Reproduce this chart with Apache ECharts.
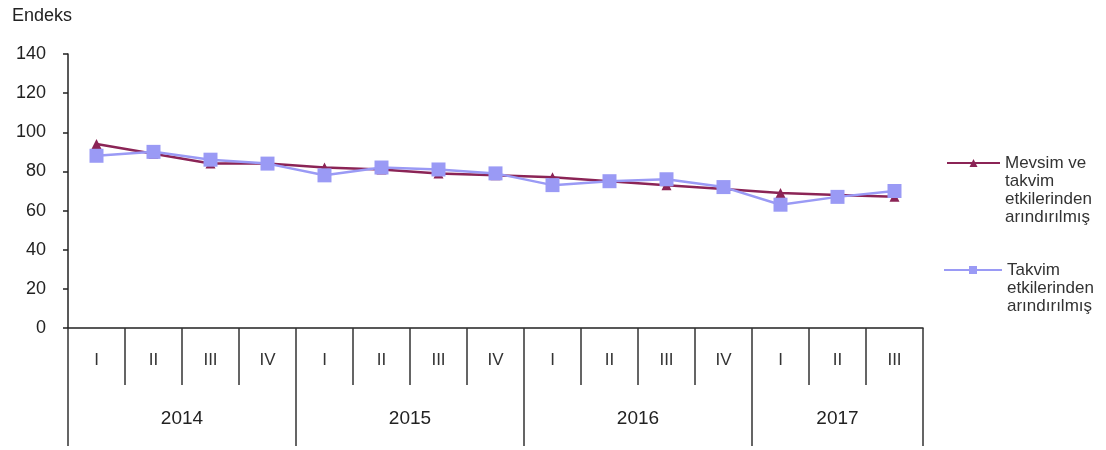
<!DOCTYPE html>
<html>
<head>
<meta charset="utf-8">
<script src="https://cdn.jsdelivr.net/npm/echarts@6/dist/echarts.min.js"></script>
<style>html,body{margin:0;padding:0;background:#fff}#c{width:1106px;height:450px}</style>
</head>
<body>
<div id="c"></div>
<script>
const quarters = ['I','II','III','IV','I','II','III','IV','I','II','III','IV','I','II','III'];
const yearLabels = ['2014','2015','2016','2017'];
const yearLabelSlots = [4, 12, 20, 27];      // half-quarter positions of year labels
const yearBoundarySlots = [0, 8, 16, 24, 30]; // half-quarter positions of year boundaries
const seasonalAdj = [94, 89, 84, 84, 82, 81, 79, 78, 77, 75, 73, 71, 69, 68, 67];
const calendarAdj = [88, 90, 86, 84, 78, 82, 81, 79, 73, 75, 76, 72, 63, 67, 70];
const yTicks = { min: 0, max: 140, interval: 20 };
const name1 = 'Mevsim ve\ntakvim\netkilerinden\narındırılmış';
const name2 = 'Takvim\netkilerinden\narındırılmış';

const yearSlots = [];
for (let k = 0; k <= quarters.length * 2; k++) {
  const i = yearLabelSlots.indexOf(k);
  yearSlots.push(i >= 0 ? yearLabels[i] : '');
}

const font = '"Liberation Sans", Arial, sans-serif';
const c1 = '#8B2456', c2 = '#9A9AF5';
const LH = 18;
const chart = echarts.init(document.getElementById('c'), null, {renderer: 'canvas'});
chart.setOption({
  animation: false,
  backgroundColor: '#fff',
  textStyle: { fontFamily: font },
  title: { text: 'Endeks', left: 12, top: 7, padding: 0, textStyle: { fontSize: 18, fontWeight: 'normal', color: '#222', fontFamily: font } },
  grid: { left: 68, right: 183, top: 54, bottom: 122, containLabel: false },
  legend: [
    { data: [name1], orient: 'vertical', left: 946, top: 163 - 3.5 * LH, padding: 0, itemWidth: 53, itemHeight: 10,
      formatter: n => '\n\n\n' + n,
      textStyle: { fontSize: 17, lineHeight: LH, color: '#333', fontFamily: font } },
    { data: [name2], orient: 'vertical', left: 943, top: 270 - 2.5 * LH, padding: 0, itemWidth: 58, itemHeight: 10,
      formatter: n => '\n\n' + n,
      textStyle: { fontSize: 17, lineHeight: LH, color: '#333', fontFamily: font } }
  ],
  xAxis: [
    { type: 'category', data: quarters, boundaryGap: true, position: 'bottom',
      axisLine: { show: true, lineStyle: { color: '#222', width: 1.5 } },
      axisTick: { show: true, interval: 0, length: 57, lineStyle: { color: '#333', width: 1.5 } },
      axisLabel: { interval: 0, margin: 24, fontSize: 17, color: '#333', fontFamily: font },
      splitLine: { show: false } },
    { type: 'category', data: yearSlots, boundaryGap: false, position: 'bottom', offset: 0,
      axisLine: { show: false },
      axisTick: { show: true, length: 118, interval: (i) => yearBoundarySlots.indexOf(i) >= 0, lineStyle: { color: '#333', width: 1.5 } },
      axisLabel: { interval: (i) => yearLabelSlots.indexOf(i) >= 0, margin: 81, fontSize: 19, color: '#222', fontFamily: font },
      splitLine: { show: false } }
  ],
  yAxis: { type: 'value', min: yTicks.min, max: yTicks.max, interval: yTicks.interval,
    axisLine: { show: true, lineStyle: { color: '#222', width: 1.5 } },
    axisTick: { show: true, length: 5, lineStyle: { color: '#222', width: 1.5 } },
    axisLabel: { margin: 22, fontSize: 18, color: '#222', fontFamily: font },
    splitLine: { show: false } },
  series: [
    { name: name1, type: 'line', data: seasonalAdj, xAxisIndex: 0, symbol: 'triangle', symbolSize: 10,
      lineStyle: { color: c1, width: 2.5 }, itemStyle: { color: c1 }, z: 2 },
    { name: name2, type: 'line', data: calendarAdj, xAxisIndex: 0, symbol: 'rect', symbolSize: 14,
      lineStyle: { color: c2, width: 2.5 }, itemStyle: { color: c2 }, z: 3 }
  ]
});
</script>
</body>
</html>
